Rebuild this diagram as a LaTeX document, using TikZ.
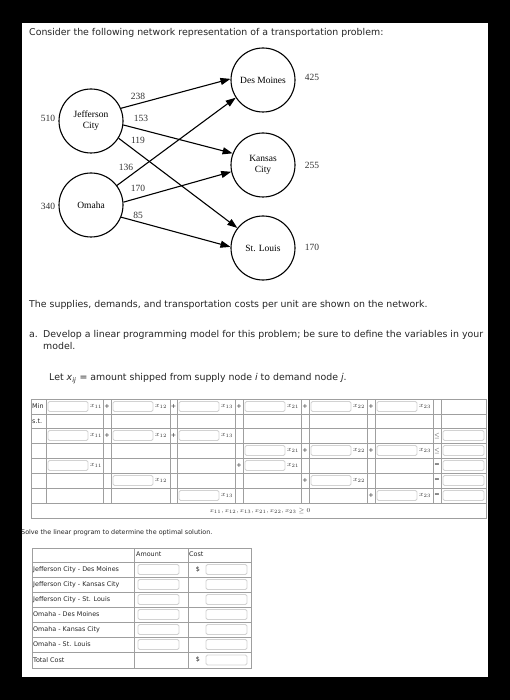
\documentclass[tikz,border=0pt]{standalone}
\usepackage{fontspec}
\setmainfont{DejaVu Sans}
\newfontfamily\serifnet{Liberation Serif}
\usetikzlibrary{arrows.meta}
\newcommand\vbx[3]{\draw[inbox] ({#1+2},{#2+2.5}) rectangle ({#1+42},{#2+12.5});
  \node[varlbl] at ({#1+50},{#2+7.5}) {$x_{#3}$};}
\newcommand\rbx[1]{\draw[inbox] (443,{#1+2.5}) rectangle (484,{#1+12.5});}
\newcommand\op[3]{\node[small] at (#1,{#2+7.5}) {#3};}
\newcommand\abx[1]{\draw[inbox] (138,{#1+2.5}) rectangle (179,{#1+12.5});}
\newcommand\cbx[1]{\draw[inbox] (206,{#1+2.5}) rectangle (247,{#1+12.5});}
\begin{document}
\begin{tikzpicture}[x=1pt,y=-1pt,
  city/.style={circle,draw,line width=1.1pt,minimum size=64pt,inner sep=0pt,font=\serifnet\fontsize{9.5}{11}\selectfont,align=center},
  netlbl/.style={font=\serifnet\fontsize{9.5}{10}\selectfont,inner sep=0pt,text=black!80},
  flow/.style={line width=1.1pt,-{Triangle[length=10pt,width=7pt]}},
  body/.style={font=\fontsize{9.4}{11}\selectfont,anchor=west,inner sep=0pt,text=black!85},
  small/.style={font=\fontsize{6.4}{7}\selectfont,inner sep=0pt,text=black!85},
  varlbl/.style={font=\fontsize{6.6}{7}\selectfont,inner sep=0pt,text=black!80},
  tgrid/.style={draw=gray!75,line width=0.9pt},
  inbox/.style={draw=gray!35,line width=0.8pt,fill=white,rounded corners=1.5pt},
]
\fill[black] (0,0) rectangle (510,700);
\fill[white] (22,23) rectangle (488,677);
\useasboundingbox (0,0) rectangle (510,700);

\node[body] (title) at (29,33) {Consider the following network representation of a transportation problem:};

% network
\node[city] (J) at (91,121) {Jefferson\\City};
\node[city] (O) at (91,205) {Omaha};
\node[city] (DM) at (263,80) {Des Moines};
\node[city] (KC) at (263,165) {Kansas\\City};
\node[city] (SL) at (263,248) {St. Louis};
\node[netlbl] (sJ) at (48,118) {510};
\node[netlbl] (sO) at (48,206) {340};
\node[netlbl] (dDM) at (312,77) {425};
\node[netlbl] (dKC) at (312,165) {255};
\node[netlbl] (dSL) at (312,247) {170};
\draw[flow] (J.23) -- (DM.178);
\draw[flow] (J.-7) -- (KC.159);
\draw[flow] (J.-32) -- (SL.142);
\draw[flow] (O.37) -- (DM.213);
\draw[flow] (O.5) -- (KC.192);
\draw[flow] (O.-22) -- (SL.178);
\node[netlbl] (c1) at (138,96) {238};
\node[netlbl] (c2) at (141,118) {153};
\node[netlbl] (c3) at (138,140) {119};
\node[netlbl] (c4) at (126,167) {136};
\node[netlbl] (c5) at (138,188) {170};
\node[netlbl] (c6) at (138,215) {85};

\node[body] (t1) at (29,305) {The supplies, demands, and transportation costs per unit are shown on the network.};
\node[body] (t2a) at (29,335) {a.};
\node[body] (t2) at (43,335) {Develop a linear programming model for this problem; be sure to define the variables in your};
\node[body] (t3) at (43,346) {model.};
\node[body] (t4) at (49,379) {Let \textit{x}\textsubscript{\textit{ij}} = amount shipped from supply node \textit{i} to demand node \textit{j}.};

% table 1
\draw[tgrid] (31,399) rectangle (486,518);
\foreach \yy in {414,428,443,458,473,488,503} \draw[tgrid] (31,\yy) -- (486,\yy);
\foreach \xx in {46,103,111,170,177,235,243,301,309,367,375,433,441} \draw[tgrid] (\xx,399) -- (\xx,503);
\node[small,anchor=west] (min) at (32,406.5) {Min};
\node[small,anchor=west] (st) at (32,421) {s.t.};
% row 1
\vbx{46}{399}{11}\vbx{111}{399}{12}\vbx{177}{399}{13}\vbx{243}{399}{21}\vbx{309}{399}{22}\vbx{375}{399}{23}
\op{107}{399}{+}\op{173.5}{399}{+}\op{239}{399}{+}\op{305}{399}{+}\op{371}{399}{+}
% row 3
\vbx{46}{428}{11}\vbx{111}{428}{12}\vbx{177}{428}{13}
\op{107}{428}{+}\op{173.5}{428}{+}\op{437}{428}{$\le$}\rbx{428}
% row 4
\vbx{243}{443}{21}\vbx{309}{443}{22}\vbx{375}{443}{23}
\op{305}{443}{+}\op{371}{443}{+}\op{437}{443}{$\le$}\rbx{443}
% row 5
\vbx{46}{458}{11}\op{239}{458}{+}\vbx{243}{458}{21}\op{437}{458}{=}\rbx{458}
% row 6
\vbx{111}{473}{12}\op{305}{473}{+}\vbx{309}{473}{22}\op{437}{473}{=}\rbx{473}
% row 7
\vbx{177}{488}{13}\op{371}{488}{+}\vbx{375}{488}{23}\op{437}{488}{=}\rbx{488}
\node[font=\fontsize{5.6}{6}\selectfont,inner sep=0pt,text=black!80] (nn) at (260,511) {$x_{11}, x_{12}, x_{13}, x_{21}, x_{22}, x_{23} \ge 0$};

\node[small,anchor=west] (solve) at (21,533) {Solve the linear program to determine the optimal solution.};

% table 2
\draw[tgrid] (32,548) rectangle (251,668);
\foreach \yy in {562,577,592,607,622,637,652} \draw[tgrid] (32,\yy) -- (251,\yy);
\foreach \xx in {134,188} \draw[tgrid] (\xx,548) -- (\xx,668);
\node[small,anchor=west] (hA) at (136,554) {Amount};
\node[small,anchor=west] (hC) at (189,554) {Cost};
\node[small,anchor=west] (r1) at (33,569.5) {Jefferson City - Des Moines};
\node[small,anchor=west] (r2) at (33,584.5) {Jefferson City - Kansas City};
\node[small,anchor=west] (r3) at (33,599.5) {Jefferson City - St. Louis};
\node[small,anchor=west] (r4) at (33,614.5) {Omaha - Des Moines};
\node[small,anchor=west] (r5) at (33,629.5) {Omaha - Kansas City};
\node[small,anchor=west] (r6) at (33,644.5) {Omaha - St. Louis};
\node[small,anchor=west] (r7) at (33,660) {Total Cost};
\foreach \yy in {562,577,592,607,622,637} {\abx{\yy}\cbx{\yy}}
\cbx{652.5}
\node[small] (d1) at (198,569.5) {\$};
\node[small] (d2) at (198,660) {\$};
\end{tikzpicture}
\end{document}
